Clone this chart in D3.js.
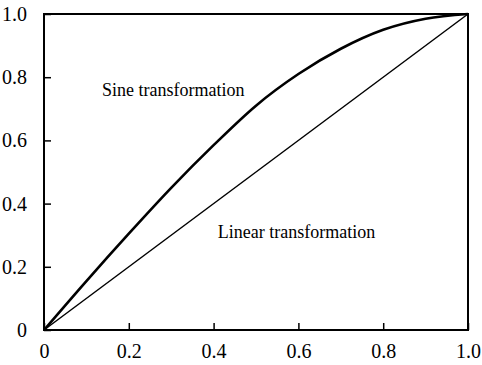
<!DOCTYPE html>
<html>
<head>
<meta charset="utf-8">
<script src="https://cdn.jsdelivr.net/npm/d3@7"></script>
<style>
  body { margin: 0; background: #fff; }
  svg text { font-family: "Times New Roman", Times, "Liberation Serif", serif !important; fill: #000; }
</style>
</head>
<body>
<div id="chartArea"></div>
<script>
// data
const xValues = [0, 0.1, 0.2, 0.3, 0.4, 0.5, 0.6, 0.7, 0.8, 0.9, 1.0];
const sineValues = [0, 0.155, 0.305, 0.45, 0.585, 0.71, 0.81, 0.89, 0.95, 0.985, 1.0];
const linearValues = [0, 1.0];
const linearX = [0, 1.0];
const xTicks = [0, 0.2, 0.4, 0.6, 0.8, 1.0];
const yTicks = [0, 0.2, 0.4, 0.6, 0.8, 1.0];
const xTickLabels = ["0", "0.2", "0.4", "0.6", "0.8", "1.0"];
const yTickLabels = ["0", "0.2", "0.4", "0.6", "0.8", "1.0"];

// constants
const width = 482, height = 365;
const margin = { top: 14, right: 14, bottom: 35, left: 44 };
const w = width - margin.left - margin.right;
const h = height - margin.top - margin.bottom;

var xScale = d3.scaleLinear().domain([0, 1]).range([0, w]);
var yScale = d3.scaleLinear().domain([0, 1]).range([h, 0]);

var svg = d3.select("#chartArea").append("svg")
    .attr("width", width)
    .attr("height", height)
    .append("g")
    .attr("transform", "translate(" + margin.left + "," + margin.top + ")");

// axes with inward ticks
var xAxis = d3.axisBottom(xScale)
    .tickValues(xTicks)
    .tickSizeInner(-7).tickSizeOuter(0).tickPadding(22)
    .tickFormat(function (d, i) { return xTickLabels[i]; });
var yAxis = d3.axisLeft(yScale)
    .tickValues(yTicks)
    .tickSizeInner(-7).tickSizeOuter(0).tickPadding(17)
    .tickFormat(function (d, i) { return yTickLabels[i]; });

var gx = svg.append("g")
    .attr("transform", "translate(0," + h + ")")
    .call(xAxis);
var gy = svg.append("g").call(yAxis);

[gx, gy].forEach(function (g) {
    g.attr("font-family", null);
    g.select(".domain").remove();
    g.selectAll(".tick line").attr("stroke", "#000").attr("stroke-width", 1.5);
    g.selectAll(".tick text").style("font-size", "20px");
});
gx.selectAll(".tick text").attr("dy", "0.3em");

// frame
svg.append("rect")
    .attr("x", 0).attr("y", 0)
    .attr("width", w).attr("height", h)
    .attr("fill", "none")
    .attr("stroke", "#000")
    .attr("stroke-width", 2);

// lines
var line = d3.line()
    .x(function (d) { return xScale(d[0]); })
    .y(function (d) { return yScale(d[1]); });

svg.append("path")
    .datum(linearX.map(function (x, i) { return [x, linearValues[i]]; }))
    .attr("d", line)
    .attr("fill", "none")
    .attr("stroke", "#000")
    .attr("stroke-width", 1.5);

svg.append("path")
    .datum(xValues.map(function (x, i) { return [x, sineValues[i]]; }))
    .attr("d", line.curve(d3.curveMonotoneX))
    .attr("fill", "none")
    .attr("stroke", "#000")
    .attr("stroke-width", 2.6);

// labels
svg.append("text")
    .attr("x", xScale(0.137)).attr("y", yScale(0.742))
    .style("font-size", "18px")
    .text("Sine transformation");
svg.append("text")
    .attr("x", xScale(0.41)).attr("y", yScale(0.291))
    .style("font-size", "18px")
    .text("Linear transformation");
</script>
</body>
</html>
